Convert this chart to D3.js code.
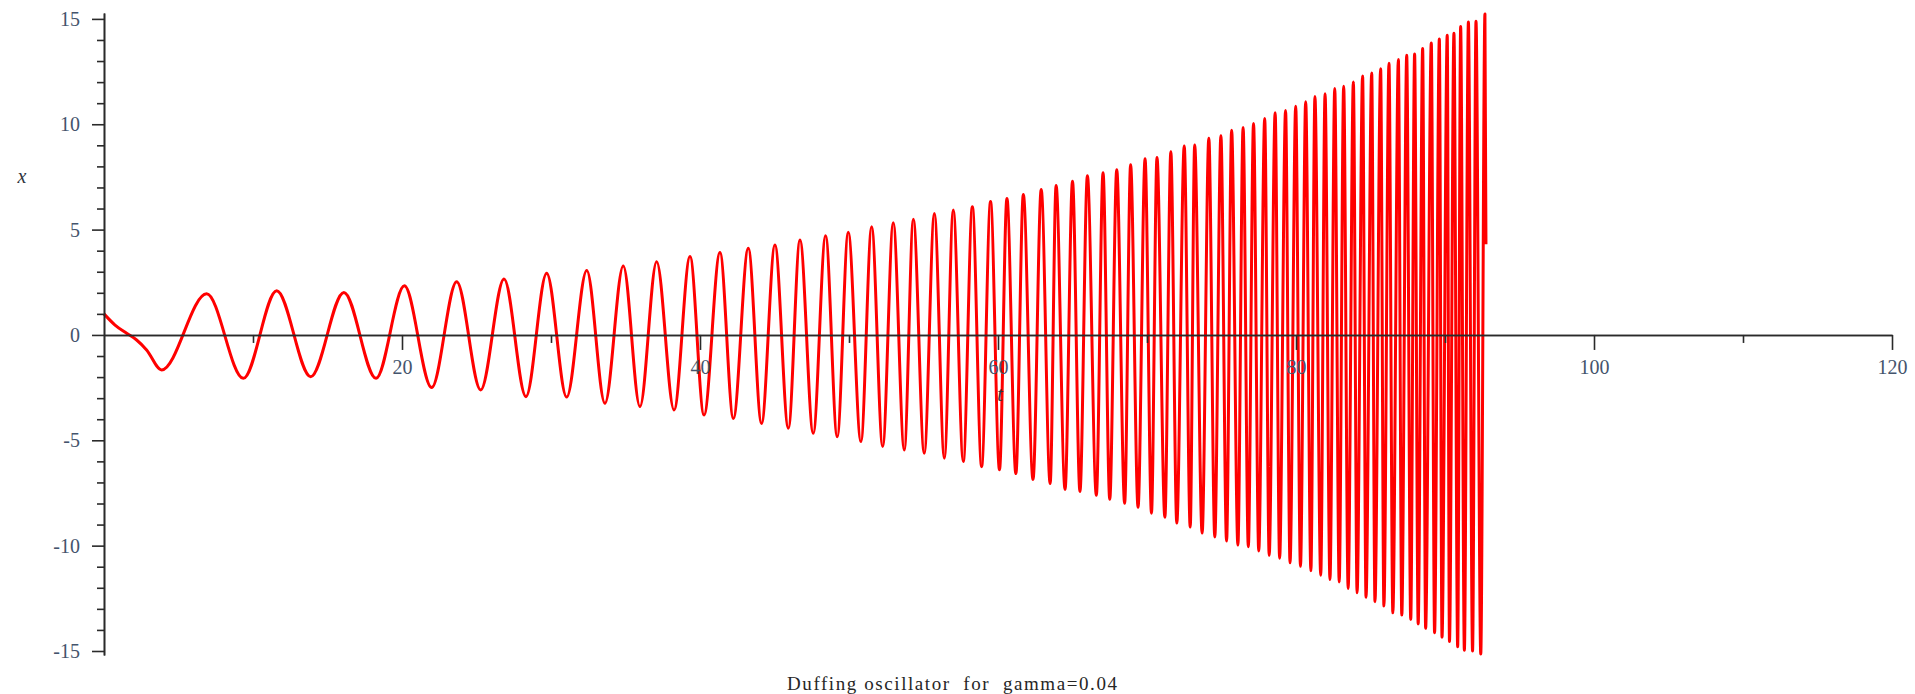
<!DOCTYPE html>
<html>
<head>
<meta charset="utf-8">
<script src="https://cdn.jsdelivr.net/npm/d3@7"></script>
<style>
  html, body { margin: 0; padding: 0; background: #ffffff; }
  svg { display: block; }
  .tick-label { font-family: "Liberation Serif", "Times New Roman", serif; font-size: 20px; fill: #44546c; }
  .caption { white-space: pre; }
</style>
</head>
<body>
<svg id="chart" width="1915" height="694"></svg>
<script>
// Turning points of the solution x(t), in time order
const tValues = [
  0, 0.74, 1.52, 2.19, 2.86, 3.87, 6.89, 9.35, 11.59, 13.87,
  16.10, 18.26, 20.16, 21.99, 23.67, 25.28, 26.85, 28.32, 29.71, 31.05,
  32.40, 33.62, 34.85, 35.97, 37.09, 38.26, 39.33, 40.27, 41.34, 42.24,
  43.24, 44.13, 45.03, 45.93, 46.71, 47.60, 48.43, 49.21, 49.95, 50.80,
  51.52, 52.26, 52.97, 53.71, 54.32, 55.05, 55.73, 56.40, 57.00, 57.67,
  58.28, 58.90, 59.50, 60.10, 60.60, 61.20, 61.70, 62.35, 62.90, 63.50,
  63.90, 64.50, 65.00, 65.50, 66.00, 66.60, 67.05, 67.50, 67.97, 68.50,
  68.90, 69.40, 69.87, 70.30, 70.67, 71.20, 71.60, 72.00, 72.50, 72.90,
  73.20, 73.70, 74.15, 74.55, 74.96, 75.34, 75.68, 76.10, 76.45, 76.80,
  77.15, 77.50, 77.90, 78.20, 78.60, 78.90, 79.30, 79.60, 79.98, 80.30,
  80.65, 81.00, 81.27, 81.66, 81.95, 82.28, 82.60, 82.90, 83.20, 83.50,
  83.85, 84.10, 84.47, 84.70, 85.08, 85.30, 85.68, 85.90, 86.24, 86.50,
  86.87, 87.10, 87.43, 87.70, 87.96, 88.20, 88.50, 88.70, 89.08, 89.30,
  89.62, 89.80, 90.15, 90.30, 90.60, 90.85, 91.05, 91.30, 91.57, 91.85,
  92.08, 92.40, 92.68, 92.75
];
const xValues = [
  1.00, 0.47, 0.08, -0.24, -0.71, -1.66, 1.95, -2.06, 2.10, -1.98,
  2.02, -2.06, 2.33, -2.50, 2.53, -2.61, 2.66, -2.93, 2.93, -2.95,
  3.06, -3.24, 3.27, -3.40, 3.48, -3.56, 3.72, -3.80, 3.91, -3.96,
  4.11, -4.20, 4.27, -4.43, 4.51, -4.67, 4.71, -4.83, 4.87, -5.06,
  5.14, -5.30, 5.33, -5.46, 5.49, -5.62, 5.77, -5.85, 5.93, -6.01,
  6.09, -6.25, 6.33, -6.40, 6.48, -6.58, 6.67, -6.86, 6.90, -7.05,
  7.09, -7.33, 7.29, -7.43, 7.55, -7.61, 7.70, -7.80, 7.84, -7.99,
  8.08, -8.18, 8.36, -8.46, 8.42, -8.65, 8.69, -8.93, 8.97, -9.12,
  9.02, -9.40, 9.34, -9.59, 9.45, -9.78, 9.72, -9.97, 9.85, -10.05,
  10.04, -10.25, 10.27, -10.46, 10.55, -10.60, 10.65, -10.81, 10.86, -10.98,
  11.07, -11.19, 11.32, -11.40, 11.45, -11.61, 11.70, -11.72, 11.80, -12.03,
  12.01, -12.24, 12.29, -12.45, 12.43, -12.66, 12.64, -12.87, 12.90, -13.19,
  13.07, -13.29, 13.27, -13.50, 13.34, -13.71, 13.59, -13.92, 13.86, -14.13,
  14.05, -14.34, 14.22, -14.55, 14.32, -14.80, 14.64, -14.97, 14.85, -15.00,
  14.89, -15.14, 15.23, 4.30
];

// Axis ranges and ticks
const tDomain = [0, 120];
const xDomain = [-15.19, 15.28];
const tTicksMajor = [20, 40, 60, 80, 100, 120];
const tTicksMinor = [10, 30, 50, 70, 90, 110];
const xTicksMajor = [-15, -10, -5, 0, 5, 10, 15];
const xTicksMinor = [-14, -13, -12, -11, -9, -8, -7, -6, -4, -3, -2, -1,
                     1, 2, 3, 4, 6, 7, 8, 9, 11, 12, 13, 14];
const titleText = "Duffing oscillator  for  gamma=0.04";

const svg = d3.select("#chart");

const tScale = d3.scaleLinear().domain(tDomain).range([104, 1892]);
const xScale = d3.scaleLinear().domain(xDomain).range([655, 13]);

const points = tValues.map((t, i) => ({ t, x: xValues[i] }));

// Solution curve
const line = d3.line()
  .x(d => tScale(d.t))
  .y(d => xScale(d.x))
  .curve(d3.curveMonotoneX);

svg.append("path")
  .datum(points)
  .attr("d", line)
  .attr("fill", "none")
  .attr("stroke", "#ff0000")
  .attr("stroke-width", 3)
  .attr("stroke-linejoin", "round");

// Horizontal axis through x = 0
const y0 = xScale(0);
const tAxisMinor = d3.axisBottom(tScale).tickValues(tTicksMinor).tickSize(8).tickSizeOuter(0).tickFormat("");
const tAxisMajor = d3.axisBottom(tScale).tickValues(tTicksMajor).tickSize(15).tickSizeOuter(0)
  .tickPadding(10).tickFormat(d => String(d));

const gtMinor = svg.append("g").attr("transform", `translate(0,${y0})`).call(tAxisMinor);
const gtMajor = svg.append("g").attr("transform", `translate(0,${y0})`).call(tAxisMajor);

// Vertical axis at t = 0
const xAxisMinor = d3.axisLeft(xScale).tickValues(xTicksMinor).tickSize(7).tickSizeOuter(0).tickFormat("");
const xAxisMajor = d3.axisLeft(xScale).tickValues(xTicksMajor).tickSize(12).tickSizeOuter(0)
  .tickPadding(12).tickFormat(d => String(d));

const gxMinor = svg.append("g").attr("transform", `translate(${tScale(0)},0)`).call(xAxisMinor);
const gxMajor = svg.append("g").attr("transform", `translate(${tScale(0)},0)`).call(xAxisMajor);

[gtMinor, gtMajor, gxMinor, gxMajor].forEach(g => {
  g.selectAll("path.domain").attr("stroke", "#2a2a2a").attr("stroke-width", 1.6);
  g.selectAll(".tick line").attr("stroke", "#2a2a2a").attr("stroke-width", 1.6);
  g.selectAll(".tick text").attr("class", "tick-label").attr("fill", null);
  g.attr("font-family", null).attr("font-size", null);
});

// Axis titles
svg.append("text")
  .attr("x", tScale(60) + 2)
  .attr("y", 401)
  .attr("text-anchor", "middle")
  .attr("font-family", "Liberation Serif, serif")
  .attr("font-style", "italic")
  .attr("font-size", 20)
  .attr("fill", "#2f3540")
  .text("t");

svg.append("text")
  .attr("x", 22)
  .attr("y", 183)
  .attr("text-anchor", "middle")
  .attr("font-family", "Liberation Serif, serif")
  .attr("font-style", "italic")
  .attr("font-size", 20)
  .attr("fill", "#2f3540")
  .text("x");

// Caption
svg.append("text")
  .attr("class", "caption")
  .attr("x", 787)
  .attr("y", 690)
  .attr("font-family", "Liberation Serif, serif")
  .attr("font-size", 19)
  .attr("fill", "#262626")
  .attr("textLength", 330)
  .attr("lengthAdjust", "spacing")
  .text(titleText);
</script>
</body>
</html>
